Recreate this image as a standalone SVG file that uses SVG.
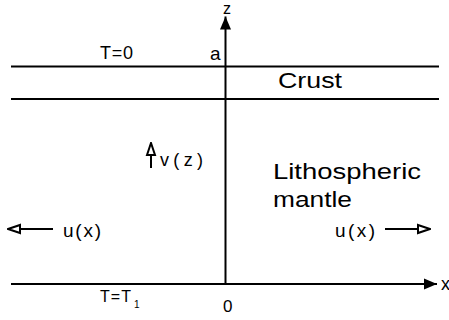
<svg xmlns="http://www.w3.org/2000/svg" width="449" height="320" viewBox="0 0 449 320">
  <style>
    .ln { stroke: #000; stroke-width: 2; fill: none; }
    .t { font-family: "Liberation Sans", Arial, sans-serif; fill: #000; }
  </style>
  <defs>
    <marker id="open" markerUnits="userSpaceOnUse" markerWidth="14" markerHeight="12" refX="12" refY="5" orient="auto" viewBox="-1 -1 14 12">
      <path d="M0,1 L12,5 L0,9 Z" fill="#fff" stroke="#000" stroke-width="2" stroke-linejoin="miter"/>
    </marker>
    <marker id="solid" markerUnits="userSpaceOnUse" markerWidth="14" markerHeight="12" refX="13" refY="6" orient="auto" viewBox="0 0 14 12">
      <path d="M0,0.5 L13,6 L0,11.5 Z" fill="#000"/>
    </marker>
  </defs>
  <rect width="449" height="320" fill="#fff"/>

  <g id="layers">
    <line id="surface" class="ln" x1="11" y1="66.5" x2="439" y2="66.5"/>
    <line id="moho" class="ln" x1="11" y1="99" x2="439" y2="99"/>
  </g>

  <g id="connectors">
    <line id="z-axis" class="ln" x1="225.5" y1="284" x2="225.5" y2="16.5" marker-end="url(#solid)"/>
    <line id="x-axis" class="ln" x1="11" y1="284" x2="437" y2="284" marker-end="url(#solid)"/>
    <line id="v-arrow" class="ln" x1="151" y1="168" x2="151" y2="143" marker-end="url(#open)"/>
    <line id="u-left" class="ln" x1="53" y1="229" x2="8" y2="229" marker-end="url(#open)"/>
    <line id="u-right" class="ln" x1="385" y1="229" x2="430" y2="229" marker-end="url(#open)"/>
  </g>

  <g id="labels">
    <text class="t" x="223" y="14" font-size="16">z</text>
    <text class="t" x="100" y="59" font-size="18" textLength="33">T=0</text>
    <text class="t" x="210" y="60" font-size="19">a</text>
    <text class="t" x="278" y="88" font-size="22" textLength="64" lengthAdjust="spacingAndGlyphs">Crust</text>
    <text class="t" x="160" y="166" font-size="18" textLength="43">v(z)</text>
    <text class="t" x="273" y="179" font-size="22" textLength="148" lengthAdjust="spacingAndGlyphs">Lithospheric</text>
    <text class="t" x="273" y="207" font-size="22" textLength="79" lengthAdjust="spacingAndGlyphs">mantle</text>
    <text class="t" x="63" y="237" font-size="19" textLength="38">u(x)</text>
    <text class="t" x="335" y="237" font-size="19" textLength="40">u(x)</text>
    <text class="t" x="441" y="290" font-size="18">x</text>
    <text class="t" x="100" y="302" font-size="16" textLength="31">T=T</text>
    <text class="t" x="134" y="308" font-size="10">1</text>
    <text class="t" x="223" y="312" font-size="17">0</text>
  </g>
</svg>
